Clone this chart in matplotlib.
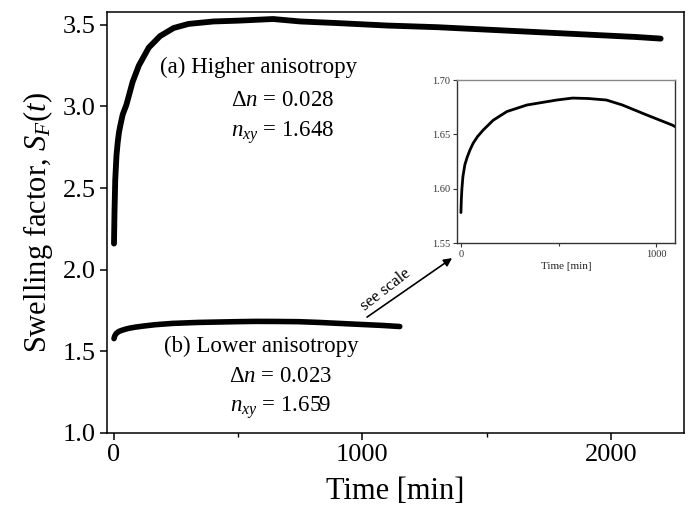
import matplotlib
matplotlib.use("Agg")
import matplotlib.pyplot as plt
from matplotlib.ticker import MultipleLocator

plt.rcParams['font.family'] = ['Liberation Serif', 'DejaVu Serif']
plt.rcParams['mathtext.fontset'] = 'custom'
plt.rcParams['mathtext.rm'] = 'Liberation Serif'
plt.rcParams['mathtext.it'] = 'Liberation Serif:italic'
plt.rcParams['mathtext.bf'] = 'Liberation Serif:bold'

# Series (a): higher anisotropy
time_a = [0, 2, 5, 10, 15, 20, 25, 35, 50, 75, 100, 140, 185, 240, 300, 400, 500,
          640, 750, 900, 1100, 1300, 1500, 1700, 1900, 2100, 2200]
sf_a = [2.16, 2.35, 2.55, 2.70, 2.78, 2.84, 2.88, 2.95, 3.01, 3.15, 3.25, 3.36, 3.43,
        3.48, 3.505, 3.52, 3.525, 3.535, 3.52, 3.51, 3.495, 3.485, 3.47, 3.455, 3.44,
        3.425, 3.415]

# Series (b): lower anisotropy
time_b = [0, 2, 5, 10, 20, 32, 47, 63, 85, 114, 165, 235, 337, 490, 571, 650, 744,
          826, 948, 1080, 1150]
sf_b = [1.578, 1.59, 1.600, 1.611, 1.622, 1.629, 1.636, 1.642, 1.648, 1.654, 1.663,
        1.671, 1.677, 1.6816, 1.6834, 1.683, 1.6816, 1.677, 1.668, 1.6586, 1.652]

main_xticks = [0, 1000, 2000]
main_yticks = [1.0, 1.5, 2.0, 2.5, 3.0, 3.5]
inset_xticks = [0, 1000]
inset_yticks = [1.55, 1.60, 1.65, 1.70]

fig = plt.figure(figsize=(6.91, 5.14), dpi=100)
ax = fig.add_axes([0.1549, 0.1576, 0.8350, 0.8197])

ax.plot(time_a, sf_a, color='black', lw=4.2, solid_capstyle='round', solid_joinstyle='round')
ax.plot(time_b, sf_b, color='black', lw=4.0, solid_capstyle='round', solid_joinstyle='round')

ax.set_xlim(-28, 2294)
ax.set_ylim(1.0, 3.58)
ax.set_xticks(main_xticks)
ax.set_yticks(main_yticks)
ax.set_yticklabels([f"{v:.1f}" for v in main_yticks])
ax.xaxis.set_minor_locator(MultipleLocator(500))
ax.tick_params(which='major', direction='out', length=5, width=1.1, labelsize=19, pad=3)
ax.tick_params(which='minor', direction='out', length=3, width=1.0)
ax.tick_params(axis='y', which='minor', left=False)
for s in ax.spines.values():
    s.set_linewidth(1.1)

ax.set_xlabel('Time [min]', fontsize=22, labelpad=8)
ax.set_ylabel(r'Swelling factor, $S_F(t)$', fontsize=22, labelpad=6)

fs = 16.5
ax.text(0.263, 0.868, '(a) Higher anisotropy', transform=ax.transAxes, fontsize=fs,
        ha='center', va='center')
ax.text(0.305, 0.790, 'Δ$n$ = 0.028', transform=ax.transAxes, fontsize=fs,
        ha='center', va='center')
ax.text(0.305, 0.712, '$n_{xy}$ = 1.648', transform=ax.transAxes, fontsize=fs,
        ha='center', va='center')

ax.text(0.268, 0.205, '(b) Lower anisotropy', transform=ax.transAxes, fontsize=fs,
        ha='center', va='center')
ax.text(0.300, 0.133, 'Δ$n$ = 0.023', transform=ax.transAxes, fontsize=fs,
        ha='center', va='center')
ax.text(0.300, 0.060, '$n_{xy}$ = 1.659', transform=ax.transAxes, fontsize=fs,
        ha='center', va='center')

ax.annotate('', xy=(0.598, 0.415), xytext=(0.4506, 0.275),
            xycoords='axes fraction', textcoords='axes fraction',
            arrowprops=dict(arrowstyle='-|>', color='black', lw=1.2,
                            mutation_scale=12, shrinkA=0, shrinkB=0))
ax.text(0.482, 0.340, 'see scale', transform=ax.transAxes, fontsize=12,
        rotation=38, ha='center', va='center')

# Inset
ins = fig.add_axes([0.6614, 0.5272, 0.3155, 0.3171])
ins.plot(time_b, sf_b, color='black', lw=2.0, solid_capstyle='round')
ins.set_xlim(-20, 1095)
ins.set_ylim(1.55, 1.70)
ins.set_xticks(inset_xticks)
ins.set_yticks(inset_yticks)
ins.set_yticklabels([f"{v:.2f}" for v in inset_yticks])
ins.xaxis.set_minor_locator(MultipleLocator(500))
ins.tick_params(which='major', direction='out', length=3, width=0.8, labelsize=7.5,
                pad=2, colors='#333333')
ins.tick_params(which='minor', direction='out', length=2, width=0.8, colors='#333333')
ins.set_xlabel('Time [min]', fontsize=8, labelpad=2, color='#222222')
for name, s in ins.spines.items():
    s.set_linewidth(1.0)
    s.set_color('#333333')
ins.spines['top'].set_color('#888888')

fig.savefig('out.png', dpi=100)
